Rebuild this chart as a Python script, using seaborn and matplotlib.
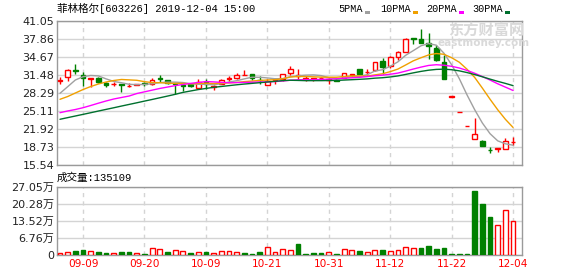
import numpy as np
import pandas as pd
import matplotlib
matplotlib.use("Agg")
import matplotlib.pyplot as plt
from matplotlib.patches import Rectangle
import seaborn as sns

# ---------------- data ----------------
dates = ["09-04", "09-05", "09-06", "09-09", "09-10", "09-11", "09-12", "09-16", "09-17", "09-18",
         "09-19", "09-20", "09-23", "09-24", "09-25", "09-26", "09-27", "09-30", "10-08", "10-09",
         "10-10", "10-11", "10-14", "10-15", "10-16", "10-17", "10-18", "10-21", "10-22", "10-23",
         "10-24", "10-25", "10-28", "10-29", "10-30", "10-31", "11-01", "11-04", "11-05", "11-06",
         "11-07", "11-08", "11-11", "11-12", "11-13", "11-14", "11-15", "11-18", "11-19", "11-20",
         "11-21", "11-22", "11-25", "11-26", "11-27", "11-28", "11-29", "12-02", "12-03", "12-04"]

open_ = [30.50, 31.13, 32.42, 31.48, 30.85, 30.90, 30.01, 29.85, 29.89, 29.50,
         29.75, 30.05, 29.90, 30.90, 30.60, 30.00, 29.70, 29.84, 29.12, 30.30,
         29.30, 29.94, 30.75, 30.90, 31.40, 31.66, 30.65, 29.80, 30.65, 30.77,
         31.78, 31.30, 30.80, 30.85, 30.90, 30.60, 30.60, 31.00, 31.55, 32.55,
         31.95, 32.37, 33.96, 33.13, 34.72, 35.50, 38.00, 37.94, 37.15, 36.30,
         33.70, 27.66, 24.89, 22.40, 20.16, 19.85, 18.25, 18.45, 18.32, 19.60]
high = [31.13, 32.60, 33.38, 32.07, 31.00, 31.13, 30.19, 30.30, 29.94, 30.10,
        29.95, 30.30, 30.90, 31.48, 30.65, 30.05, 30.10, 29.90, 30.70, 30.72,
        29.70, 30.78, 31.25, 31.80, 32.30, 31.70, 31.35, 30.80, 30.90, 31.60,
        33.00, 32.50, 31.30, 31.00, 31.20, 30.95, 30.70, 31.85, 31.70, 32.60,
        32.55, 33.80, 34.55, 34.80, 35.70, 38.00, 38.05, 39.70, 39.00, 36.80,
        35.00, 27.66, 24.89, 22.40, 23.81, 19.90, 18.80, 18.60, 20.40, 20.45]
low = [29.89, 30.50, 31.61, 29.53, 29.36, 30.07, 29.42, 29.50, 28.53, 29.40,
       29.70, 29.50, 29.70, 30.30, 29.90, 28.06, 28.60, 29.40, 29.06, 29.00,
       28.90, 29.90, 30.30, 30.80, 31.40, 30.60, 29.90, 29.80, 29.90, 30.50,
       31.50, 30.70, 30.48, 30.40, 30.70, 29.84, 30.40, 31.00, 31.20, 31.60,
       31.48, 32.20, 31.60, 32.70, 34.20, 35.50, 37.00, 37.20, 34.30, 34.00,
       30.73, 27.66, 24.89, 22.40, 20.16, 18.90, 17.70, 17.80, 18.32, 19.10]
close = [30.60, 32.37, 32.19, 30.90, 30.95, 30.19, 29.76, 29.93, 29.72, 29.60,
         29.85, 29.95, 30.55, 30.75, 30.01, 29.85, 29.60, 29.48, 30.30, 29.90,
         29.45, 30.60, 30.95, 31.48, 31.50, 30.90, 30.55, 30.40, 30.75, 31.60,
         32.55, 31.45, 30.95, 30.95, 31.00, 30.70, 30.50, 31.78, 31.65, 31.66,
         32.10, 33.73, 32.95, 34.72, 35.56, 37.86, 37.90, 37.23, 36.70, 34.14,
         30.73, 27.66, 24.89, 22.40, 20.98, 18.96, 18.20, 18.55, 19.79, 19.70]

# volume in 万 shares
volume = [0.93, 1.19, 1.46, 2.12, 1.59, 1.33, 0.93, 0.93, 1.33, 1.33,
          0.93, 0.53, 2.78, 2.39, 1.06, 1.86, 1.59, 0.93, 1.33, 1.33,
          0.93, 1.59, 1.59, 1.33, 0.93, 0.53, 1.33, 3.18, 1.19, 2.39,
          1.86, 4.38, 0.53, 0.80, 0.80, 1.06, 0.40, 2.25, 1.99, 1.59,
          1.06, 1.86, 1.99, 1.46, 1.86, 3.18, 2.78, 2.78, 3.58, 2.39,
          2.78, 0.40, 0.40, 0.40, 25.46, 20.29, 15.12, 11.93, 17.90, 13.51]
vol_dir = ["R", "R", "G", "G", "R", "G", "G", "R", "G", "G",
           "R", "G", "R", "R", "G", "R", "R", "G", "R", "G",
           "R", "R", "R", "R", "G", "G", "G", "R", "R", "R",
           "R", "G", "G", "G", "G", "R", "G", "R", "R", "G",
           "R", "R", "G", "R", "R", "R", "R", "G", "G", "G",
           "G", "G", "G", "G", "G", "G", "G", "R", "R", "R"]

# moving-average values before a full window is available
ma5_head = [28.24, 29.41, 30.60, 31.18]
ma10_head = [27.18, 27.67, 28.29, 28.91, 29.44, 29.89, 30.24, 30.51, 30.69]
ma20_head = [24.81, 25.11, 25.37, 25.69, 26.08, 26.49, 26.88, 27.23, 27.50, 27.76,
             28.20, 28.50, 28.80, 29.10, 29.35, 29.60, 29.80, 30.00, 30.15]
ma30_head = [23.64, 23.93, 24.22, 24.51, 24.80, 25.10, 25.39, 25.68, 25.98, 26.27,
             26.56, 26.86, 27.15, 27.45, 27.75, 28.06, 28.40, 28.65, 28.90, 29.10,
             29.30, 29.45, 29.60, 29.75, 29.88, 30.00, 30.12, 30.24, 30.36]

price_ticks = [15.54, 18.73, 21.92, 25.11, 28.29, 31.48, 34.67, 37.86, 41.05]
price_labels = ["15.54", "18.73", "21.92", "25.11", "28.29", "31.48", "34.67", "37.86", "41.05"]
vol_ticks = [0, 6.76, 13.52, 20.28, 27.05]
vol_labels = ["0", "6.76万", "13.52万", "20.28万", "27.05万"]
date_tick_idx = [3, 11, 19, 27, 35, 43, 51, 59]

title_text = "菲林格尔[603226] 2019-12-04 15:00"
vol_title = "成交量:135109"
ma_names = ["5PMA", "10PMA", "20PMA", "30PMA"]
ma_colors = ["#a0a0a0", "#f0a000", "#ff00ff", "#00702e"]

# ---------------- style ----------------
sns.set_style("white")
plt.rcParams["font.family"] = ["DejaVu Sans", "Noto Sans CJK SC"]
plt.rcParams["axes.unicode_minus"] = False

RED = "#ff0000"
GREEN = "#008000"
GRID = "#d4d4d4"
BORDER = "#9a9a9a"
TXT = "#222222"

W, H = 578, 276
fig = plt.figure(figsize=(W / 100, H / 100), dpi=100)
fig.patch.set_facecolor("white")

def px_rect(x0, y0, x1, y1):
    return [x0 / W, 1 - y1 / H, (x1 - x0) / W, (y1 - y0) / H]

ax = fig.add_axes(px_rect(57, 21, 522, 165))
ax2 = fig.add_axes(px_rect(57, 187, 522, 255))

idx = np.arange(len(dates))
o = np.array(open_); c = np.array(close); h = np.array(high); l = np.array(low)

cs = pd.Series(c)
def ma(n, head):
    m = cs.rolling(n).mean().to_numpy()
    m[:n - 1] = head
    return m

mas = [ma(5, ma5_head), ma(10, ma10_head), ma(20, ma20_head), ma(30, ma30_head)]

# ---- candles ----
up = c >= o
col = np.where(up, RED, GREEN)
ax.vlines(idx, l, h, colors=col, linewidth=1, zorder=2)
body_bottom = np.minimum(o, c)
body_h = np.maximum(np.abs(c - o), 0.02)
ax.bar(idx, body_h, bottom=body_bottom, width=0.6,
       facecolor=np.where(up, "white", GREEN), edgecolor=col, linewidth=1, zorder=3)

# ---- MA lines ----
for m, colr in zip(mas, ma_colors):
    sns.lineplot(x=idx, y=m, color=colr, linewidth=1, ax=ax, legend=False, zorder=4)

# ---- volume ----
vcol = np.where(np.array(vol_dir) == "R", RED, GREEN)
vface = np.where(np.array(vol_dir) == "R", "white", GREEN)
ax2.bar(idx, volume, width=0.62, facecolor=vface, edgecolor=vcol, linewidth=1, zorder=3)

# ---- axes styling ----
for a in (ax, ax2):
    a.set_xlim(-0.39, 60.16)
    a.set_xticks([idx[i] for i in date_tick_idx])
    a.tick_params(length=0)
    for s in a.spines.values():
        s.set_color(BORDER)
        s.set_linewidth(1)
    a.grid(axis="y", color=GRID, linewidth=1, linestyle="-", zorder=0)
    a.grid(axis="x", color=GRID, linewidth=1, linestyle=(0, (3, 3)), zorder=0)
    a.set_axisbelow(True)
    a.set_xlabel("")
    a.set_ylabel("")

ax.set_ylim(price_ticks[0], price_ticks[-1])
ax.set_yticks(price_ticks)
ax.set_yticklabels(price_labels, fontsize=8, color=TXT)
ax.set_xticklabels([])
ax.tick_params(axis="y", pad=2)

ax2.set_ylim(vol_ticks[0], vol_ticks[-1])
ax2.set_yticks(vol_ticks)
ax2.set_yticklabels(vol_labels, fontsize=8, color=TXT)
ax2.set_xticklabels([dates[i] for i in date_tick_idx], fontsize=7.6, color=RED)
ax2.tick_params(axis="y", pad=2)
ax2.tick_params(axis="x", pad=3)

# ---- texts ----
mono = ["Liberation Mono", "Noto Sans CJK SC"]
fig.text(57 / W, 1 - 8.5 / H, title_text, family=mono, fontsize=7.6,
         color="#000000", ha="left", va="center")
fig.text(57 / W, 1 - 178 / H, vol_title, family=mono, fontsize=7.6,
         color="#000000", ha="left", va="center")

leg_x = [338, 380, 426, 472]
sq_x = [365, 413, 459, 505]
for name, colr, lx, sx in zip(ma_names, ma_colors, leg_x, sq_x):
    fig.text(lx / W, 1 - 9 / H, name, family=mono, fontsize=7.3, color="#000000",
             ha="left", va="center")
    fig.patches.append(Rectangle((sx / W, 1 - 14 / H), 5 / W, 3 / H, transform=fig.transFigure,
                                 facecolor=colr, edgecolor="none"))

# watermark
fig.text(486 / W, 1 - 30 / H, "东方财富网", family=["Noto Sans CJK SC"], fontsize=11,
         color="#d9d9d9", ha="center", va="center", fontweight="bold", zorder=0)
fig.text(484 / W, 1 - 43 / H, "eastmoney.com", family=["DejaVu Sans"], fontsize=7.5,
         color="#d9d9d9", ha="center", va="center", fontweight="bold", zorder=0)

fig.savefig("out.png", dpi=100, facecolor="white")
